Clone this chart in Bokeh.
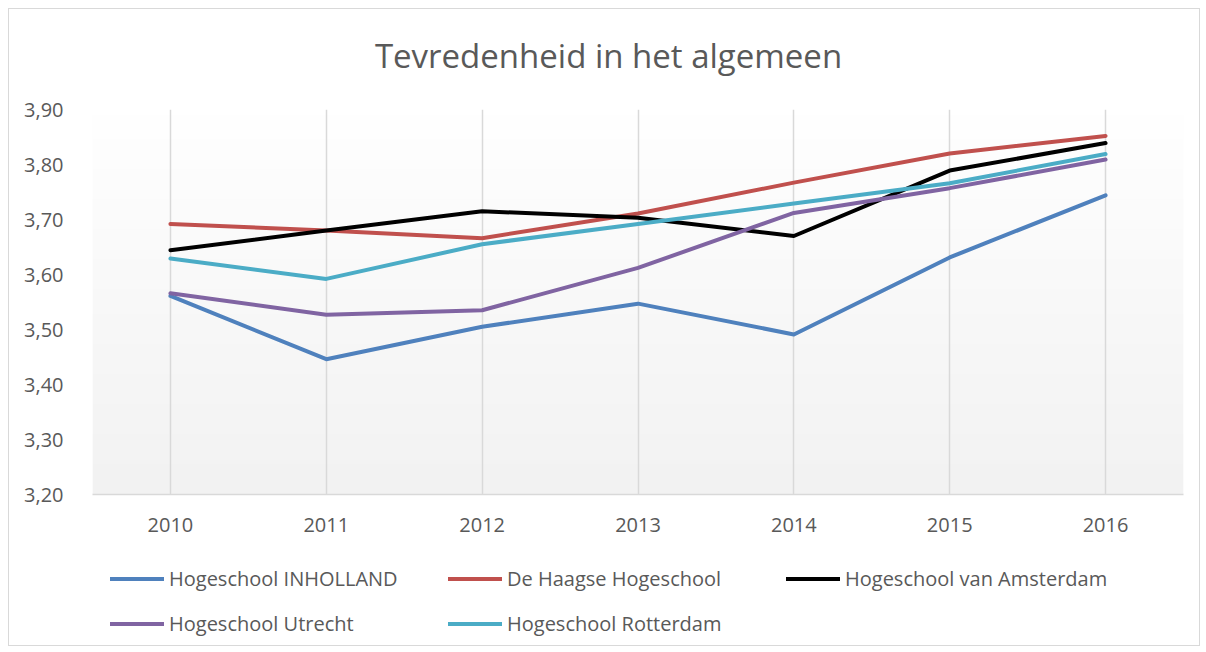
import numpy as np
from bokeh.plotting import figure
from bokeh.layouts import column
from bokeh.models import (Range1d, FixedTicker, CustomJSTickFormatter, Legend,
                          LegendItem, Label)
from bokeh.embed import file_html
from bokeh.resources import INLINE

title_text = "Tevredenheid in het algemeen"
years = [2010, 2011, 2012, 2013, 2014, 2015, 2016]
y_ticks = [3.20, 3.30, 3.40, 3.50, 3.60, 3.70, 3.80, 3.90]

inholland = [3.561, 3.446, 3.505, 3.547, 3.491, 3.631, 3.744]
haagse = [3.692, 3.680, 3.666, 3.711, 3.767, 3.820, 3.852]
amsterdam = [3.644, 3.680, 3.715, 3.703, 3.670, 3.789, 3.839]
utrecht = [3.566, 3.527, 3.535, 3.612, 3.712, 3.757, 3.809]
rotterdam = [3.629, 3.592, 3.655, 3.692, 3.729, 3.766, 3.819]

series = [
    ("Hogeschool INHOLLAND", inholland, "#4F81BD"),
    ("De Haagse Hogeschool", haagse, "#C0504D"),
    ("Hogeschool van Amsterdam", amsterdam, "#000000"),
    ("Hogeschool Utrecht", utrecht, "#8064A2"),
    ("Hogeschool Rotterdam", rotterdam, "#4BACC6"),
]

FONT = "Open Sans"
TXT = "#595959"
W = 1190
BL, BR = 83, 16      # frame borders shared by all three strips
FRAME_W = W - BL - BR

# ---- title strip ----
H0 = 90
t = figure(width=W, height=H0, output_backend="svg", toolbar_location=None,
           x_range=Range1d(0, FRAME_W), y_range=Range1d(0, H0),
           x_axis_location=None, y_axis_location=None,
           min_border_left=BL, min_border_right=BR,
           min_border_top=0, min_border_bottom=0)
t.outline_line_color = None
t.grid.visible = False
t.background_fill_color = "white"
t.border_fill_color = "white"
t.add_layout(Label(x=516, y=44, text=title_text, text_align="center",
                   text_baseline="alphabetic", text_font=FONT,
                   text_font_size="33px", text_color=TXT))

# ---- chart ----
p = figure(width=W, height=545 - H0, output_backend="svg", toolbar_location=None,
           x_range=Range1d(2009.5, 2016.5), y_range=Range1d(3.20, 3.90),
           min_border_left=BL, min_border_right=BR, min_border_top=100 - H0,
           min_border_bottom=60)
p.outline_line_color = None
p.background_fill_color = "white"
p.border_fill_color = "white"

# subtle vertical gradient in plot area
n = 64
top = np.array([255, 255, 255], dtype=float)
bot = np.array([242, 242, 242], dtype=float)
img = np.empty((n, 1), dtype=np.uint32)
view = img.view(dtype=np.uint8).reshape((n, 1, 4))
for i in range(n):
    f = i / (n - 1)
    c = bot + (top - bot) * f
    view[i, 0, 0] = int(c[0]); view[i, 0, 1] = int(c[1]); view[i, 0, 2] = int(c[2]); view[i, 0, 3] = 255
p.image_rgba(image=[img], x=2009.5, y=3.20, dw=7, dh=0.70, level="image")

for name, vals, col in series:
    p.line(years, vals, line_color=col, line_width=4, line_join="round", line_cap="round")

p.xaxis.ticker = FixedTicker(ticks=years)
p.xaxis.axis_line_color = "#d9d9d9"
p.xaxis.axis_line_width = 1.5
p.xaxis.major_tick_line_color = None
p.xaxis.minor_tick_line_color = None
p.xaxis.major_label_standoff = 17
p.xaxis.major_label_text_font = FONT
p.xaxis.major_label_text_font_size = "20px"
p.xaxis.major_label_text_color = TXT

p.yaxis.ticker = FixedTicker(ticks=y_ticks)
p.yaxis.formatter = CustomJSTickFormatter(code="return tick.toFixed(2).replace('.', ',');")
p.yaxis.axis_line_color = None
p.yaxis.major_tick_line_color = None
p.yaxis.minor_tick_line_color = None
p.yaxis.major_label_standoff = 23
p.yaxis.major_label_text_font = FONT
p.yaxis.major_label_text_font_size = "20px"
p.yaxis.major_label_text_color = TXT

p.xgrid.grid_line_color = "#d9d9d9"
p.xgrid.grid_line_width = 1.5
p.ygrid.grid_line_color = None

# ---- legend strip (same series, drawn outside its visible range) ----
H2 = 91
q = figure(width=W, height=H2, output_backend="svg", toolbar_location=None,
           x_range=p.x_range, y_range=Range1d(0, 1),
           x_axis_location=None, y_axis_location=None,
           min_border_left=BL, min_border_right=BR,
           min_border_top=0, min_border_bottom=0)
q.outline_line_color = None
q.grid.visible = False
q.background_fill_color = "white"
q.border_fill_color = "white"

items = []
for name, vals, col in series:
    r = q.line(years, vals, line_color=col, line_width=4, line_cap="round")
    items.append(LegendItem(label=name, renderers=[r]))

common = dict(orientation="horizontal", glyph_width=54, glyph_height=27,
              label_height=27, label_standoff=5, label_width=269, spacing=10,
              padding=0, margin=0, border_line_color=None,
              background_fill_alpha=0, label_text_font=FONT,
              label_text_font_size="20px", label_text_color=TXT)
legA = Legend(items=items[:3], location=(18, 53.5), **common)
legB = Legend(items=items[3:], location=(18, 8.5), **common)
q.add_layout(legA, "center")
q.add_layout(legB, "center")

layout = column(t, p, q, spacing=0)
layout.styles = {"border": "1px solid #d9d9d9", "margin-left": "8px", "margin-top": "8px",
                 "background-color": "white"}

open("out.html", "w").write(file_html(layout, INLINE))
